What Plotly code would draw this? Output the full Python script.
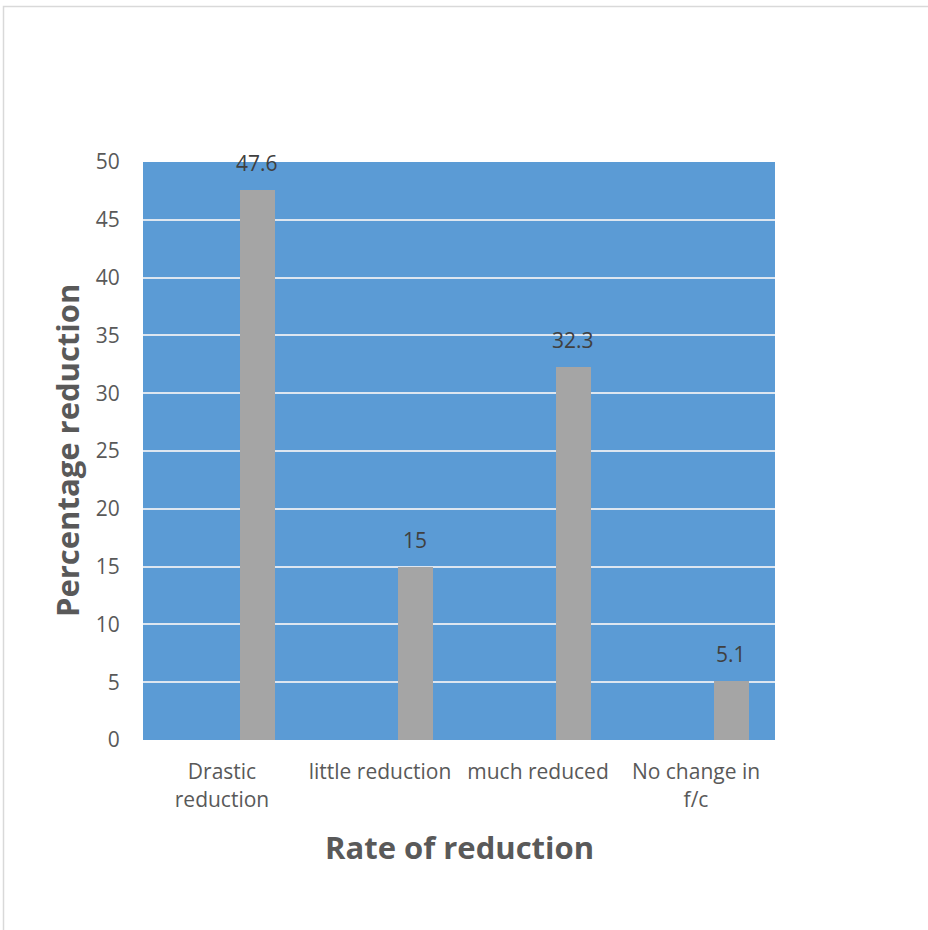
import plotly.graph_objects as go

categories = ["Drastic<br>reduction", "little reduction", "much reduced", "No change in<br>f/c"]
values = [47.6, 15, 32.3, 5.1]
value_labels = ["47.6", "15", "32.3", "5.1"]
y_ticks = [0, 5, 10, 15, 20, 25, 30, 35, 40, 45, 50]

W, H = 928, 930
L, R, T, B = 143, 153, 162, 190
pw, ph = W - L - R, H - T - B

FONT = "Open Sans"
BAR_OFFSET = 0.114
BAR_WIDTH = 0.22

fig = go.Figure()
fig.add_trace(go.Bar(
    x=categories, y=values,
    offset=BAR_OFFSET, width=BAR_WIDTH,
    marker=dict(color="#A5A5A5", line=dict(width=0)),
    cliponaxis=False,
    hoverinfo="skip",
))

annotations = []
center_shift = (BAR_OFFSET + BAR_WIDTH / 2) * pw / 4
for c, v, t in zip(categories, values, value_labels):
    annotations.append(dict(
        x=c, y=v, xref="x", yref="y", text=t, showarrow=False,
        xanchor="center", yanchor="bottom", xshift=center_shift, yshift=11,
        font=dict(family=FONT, size=21, color="#404040"),
    ))

annotations.append(dict(
    text="<b>Percentage reduction</b>", textangle=-90, showarrow=False,
    xref="paper", yref="paper", x=(67 - L) / pw, y=(H - B - 451) / ph,
    xanchor="center", yanchor="middle",
    font=dict(family=FONT, size=31, color="#595959"),
))
annotations.append(dict(
    text="<b>Rate of reduction</b>", showarrow=False,
    xref="paper", yref="paper", x=(459 - L) / pw, y=(H - B - 847) / ph,
    xanchor="center", yanchor="middle",
    font=dict(family=FONT, size=31, color="#595959"),
))

shapes = [dict(
    type="rect", xref="paper", yref="paper",
    x0=(3.5 - L) / pw, x1=(W + 5 - L) / pw,
    y0=(H - B - (H + 5)) / ph, y1=(H - B - 6.5) / ph,
    line=dict(color="#D9D9D9", width=1.5), fillcolor="rgba(0,0,0,0)", layer="below",
)]

fig.update_layout(
    width=W, height=H,
    margin=dict(l=L, r=R, t=T, b=B, pad=0),
    paper_bgcolor="white", plot_bgcolor="#5B9BD5",
    showlegend=False,
    annotations=annotations, shapes=shapes,
    bargap=0,
)
fig.update_xaxes(
    type="category", range=[-0.5, 3.5], showgrid=False, zeroline=False,
    showline=False, ticks="outside", ticklen=13, tickcolor="rgba(0,0,0,0)",
    tickfont=dict(family=FONT, size=21, color="#595959"),
)
fig.update_yaxes(
    range=[0, 50], tickvals=y_ticks, showgrid=True, gridcolor="#DDE6F0", gridwidth=1.5,
    zeroline=False, showline=False, ticks="outside", ticklen=18,
    tickcolor="rgba(0,0,0,0)",
    tickfont=dict(family=FONT, size=21, color="#595959"),
)

fig.write_html(
    "out.html",
    config={"displayModeBar": False},
    post_script="document.body.style.margin='0';document.body.style.overflow='hidden';",
)
